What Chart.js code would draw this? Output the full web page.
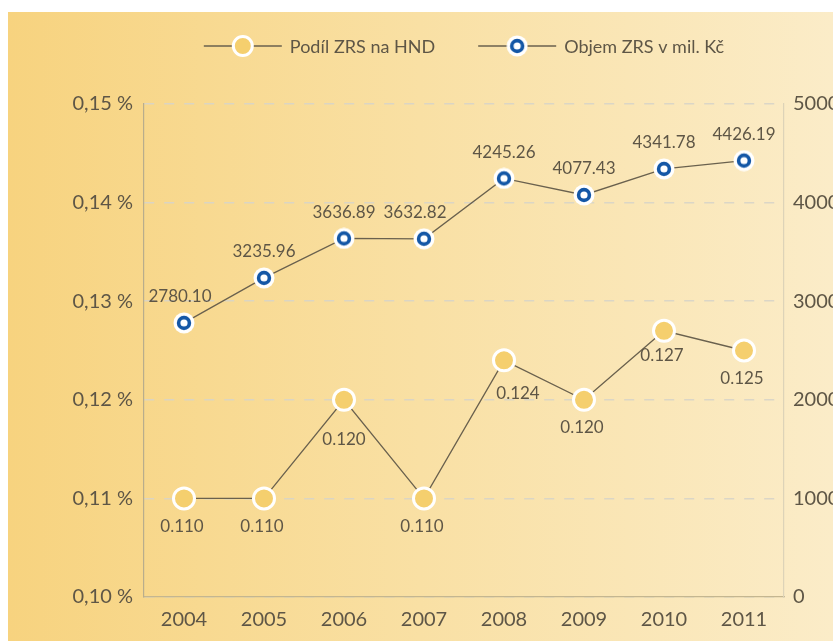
<!DOCTYPE html>
<html>
<head>
<meta charset="utf-8">
<script src="https://cdn.jsdelivr.net/npm/chart.js@4"></script>
<style>
  html, body { margin: 0; padding: 0; background: #ffffff; }
  #wrap { position: absolute; left: 0; top: 0; width: 833px; height: 641px; }
</style>
</head>
<body>
<div id="wrap"><canvas id="c" width="833" height="641"></canvas></div>
<script>
// ---- data ----
const years = ['2004', '2005', '2006', '2007', '2008', '2009', '2010', '2011'];
const shareOfGDP = [0.110, 0.110, 0.120, 0.110, 0.124, 0.120, 0.127, 0.125];
const volumeMilCZK = [2780.10, 3235.96, 3636.89, 3632.82, 4245.26, 4077.43, 4341.78, 4426.19];
const seriesNames = ['Podíl ZRS na HND', 'Objem ZRS v mil. Kč'];
const leftTicks = [0.10, 0.11, 0.12, 0.13, 0.14, 0.15];
const rightTicks = [0, 1000, 2000, 3000, 4000, 5000];

// ---- style ----
const FONT = 'Lato, "Open Sans", sans-serif';
const TEXT = '#5e5646';
const LINE = '#6a614e';
const YELLOW = '#F5CF6E';
const BLUE = '#1457a6';
// label placement (style only): [dx, dy] per point, relative to the point
const shareLabelShift = [[-2,28],[-2,28],[0,40],[-2,28],[14,33],[-2,28],[-2,25],[-2,28]];
const volumeLabelShift = [[-4,-26],[0,-26],[0,-26],[-9,-26],[0,-26],[0,-26],[0,-26],[0,-26]];

function blueMarker() {
  const s = 22, c = document.createElement('canvas');
  c.width = s; c.height = s;
  const g = c.getContext('2d');
  g.fillStyle = '#ffffff';
  g.beginPath(); g.arc(s/2, s/2, 10.5, 0, Math.PI*2); g.fill();
  g.strokeStyle = BLUE; g.lineWidth = 3.6;
  g.beginPath(); g.arc(s/2, s/2, 5.4, 0, Math.PI*2); g.stroke();
  return c;
}
const blueImg = blueMarker();

const bgPlugin = {
  id: 'bg',
  beforeDraw(chart) {
    const ctx = chart.ctx;
    ctx.save();
    ctx.fillStyle = '#ffffff';
    ctx.fillRect(0, 0, chart.width, chart.height);
    const gr = ctx.createLinearGradient(8, 0, chart.width, 0);
    gr.addColorStop(0, '#F7D37F');
    gr.addColorStop(0.5, '#F9E0A4');
    gr.addColorStop(1, '#FBECC8');
    ctx.fillStyle = gr;
    ctx.fillRect(8, 12, chart.width - 8, chart.height - 12);
    ctx.restore();
  }
};

const labelPlugin = {
  id: 'valueLabels',
  afterDatasetsDraw(chart) {
    const ctx = chart.ctx;
    ctx.save();
    ctx.font = '17px ' + FONT;
    ctx.fillStyle = TEXT;
    ctx.textAlign = 'center';
    ctx.textBaseline = 'middle';
    chart.data.datasets.forEach((ds, i) => {
      const meta = chart.getDatasetMeta(i);
      const shifts = i === 0 ? shareLabelShift : volumeLabelShift;
      meta.data.forEach((pt, j) => {
        const v = ds.data[j];
        const txt = i === 0 ? v.toFixed(3) : v.toFixed(2);
        ctx.fillText(txt, pt.x + shifts[j][0], pt.y + shifts[j][1]);
      });
    });
    ctx.restore();
  }
};

const legendPlugin = {
  id: 'lineLegend',
  afterDraw(chart) {
    const ctx = chart.ctx;
    const ca = chart.chartArea;
    ctx.save();
    ctx.font = '18px ' + FONT;
    const lineW = 78, gapText = 8, gapItems = 43;
    const widths = seriesNames.map(n => lineW + gapText + ctx.measureText(n).width);
    const total = widths[0] + widths[1] + gapItems;
    let x = (ca.left + ca.right) / 2 - total / 2;
    const y = 46;
    seriesNames.forEach((name, i) => {
      ctx.strokeStyle = LINE;
      ctx.lineWidth = 1.3;
      ctx.beginPath(); ctx.moveTo(x, y); ctx.lineTo(x + lineW, y); ctx.stroke();
      const cx = x + lineW / 2;
      if (i === 0) {
        ctx.fillStyle = YELLOW;
        ctx.strokeStyle = '#ffffff';
        ctx.lineWidth = 3;
        ctx.beginPath(); ctx.arc(cx, y, 9.5, 0, Math.PI * 2); ctx.fill(); ctx.stroke();
      } else {
        ctx.drawImage(blueImg, cx - 11, y - 11);
      }
      ctx.fillStyle = TEXT;
      ctx.textAlign = 'left';
      ctx.textBaseline = 'middle';
      ctx.fillText(name, x + lineW + gapText, y + 1);
      x += widths[i] + gapItems;
    });
    ctx.restore();
  }
};

new Chart(document.getElementById('c'), {
  type: 'line',
  data: {
    labels: years,
    datasets: [
      {
        label: seriesNames[0],
        data: shareOfGDP,
        yAxisID: 'yL',
        borderColor: LINE,
        borderWidth: 1.3,
        pointRadius: 10.5,
        pointHoverRadius: 10.5,
        pointBorderWidth: 3,
        pointBorderColor: '#ffffff',
        pointBackgroundColor: YELLOW,
        tension: 0
      },
      {
        label: seriesNames[1],
        data: volumeMilCZK,
        yAxisID: 'yR',
        borderColor: LINE,
        borderWidth: 1.3,
        pointStyle: blueImg,
        tension: 0
      }
    ]
  },
  options: {
    responsive: false,
    animation: false,
    events: [],
    layout: { padding: { top: 104, left: 0, right: 0, bottom: 0 } },
    plugins: { legend: { display: false }, tooltip: { enabled: false } },
    scales: {
      x: {
        offset: true,
        grid: { display: false, drawTicks: false },
        border: { display: true, color: '#c4b690', width: 1.2 },
        ticks: { color: TEXT, font: { family: FONT, size: 20 }, padding: 11, maxRotation: 0 },
        afterFit(s) { s.height = 44; }
      },
      yL: {
        position: 'left',
        min: 0.10, max: 0.15,
        afterBuildTicks(s) { s.ticks = leftTicks.map(v => ({ value: v })); },
        grid: { color: 'rgba(215,212,200,0.9)', lineWidth: 1.5, drawTicks: false },
        border: { display: true, color: '#b9ad8c', width: 1.2, dash: [10, 10] },
        ticks: {
          color: TEXT, font: { family: FONT, size: 20 }, padding: 11,
          callback: v => v.toFixed(2).replace('.', ',') + ' %'
        },
        afterFit(s) { s.width = 144; }
      },
      yR: {
        position: 'right',
        min: 0, max: 5000,
        afterBuildTicks(s) { s.ticks = rightTicks.map(v => ({ value: v })); },
        grid: { drawOnChartArea: false, drawTicks: false },
        border: { display: true, color: '#ddd3b8', width: 1.2 },
        ticks: { color: TEXT, font: { family: FONT, size: 20 }, padding: 9, callback: v => String(v) },
        afterFit(s) { s.width = 49; }
      }
    }
  },
  plugins: [bgPlugin, labelPlugin, legendPlugin]
});
</script>
</body>
</html>
